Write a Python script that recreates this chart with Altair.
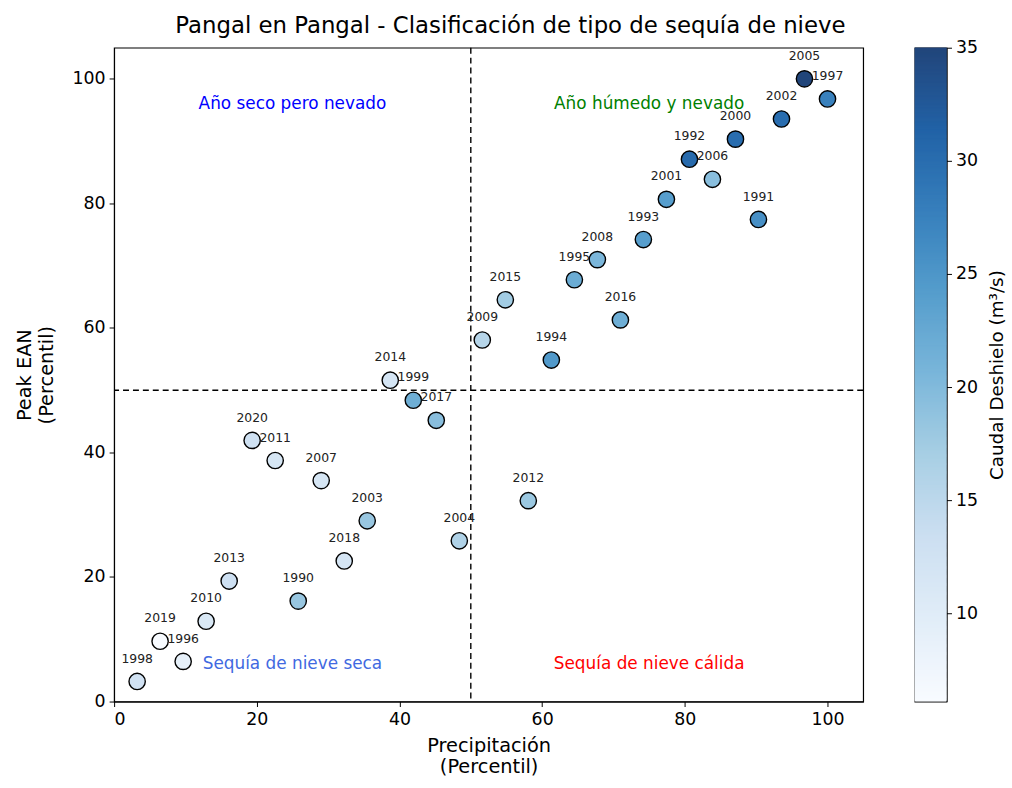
import altair as alt
import pandas as pd

# Years and their percentiles (precipitation vs. peak snow water equivalent)
years = [1998, 2019, 1996, 2010, 2013, 2020, 2011, 1990, 2007, 2018,
         2003, 2014, 1999, 2017, 2004, 2009, 2015, 2012, 1994, 1995,
         2008, 2016, 1993, 2001, 1992, 2006, 2000, 1991, 2002, 2005, 1997]
precip_pct = [3.23, 6.45, 9.68, 12.90, 16.13, 19.35, 22.58, 25.81, 29.03, 32.26,
              35.48, 38.71, 41.94, 45.16, 48.39, 51.61, 54.84, 58.06, 61.29, 64.52,
              67.74, 70.97, 74.19, 77.42, 80.65, 83.87, 87.10, 90.32, 93.55, 96.77, 100.0]
swe_pct = [3.23, 9.68, 6.45, 12.90, 19.35, 41.94, 38.71, 16.13, 35.48, 22.58,
           29.03, 51.61, 48.39, 45.16, 25.81, 58.06, 64.52, 32.26, 54.84, 67.74,
           70.97, 61.29, 74.19, 80.65, 87.10, 83.87, 90.32, 77.42, 93.55, 100.0, 96.77]
melt_flow = [12.5, 6.1, 9.0, 11.0, 13.0, 12.8, 11.6, 18.2, 11.6, 11.8,
             18.2, 11.8, 21.7, 19.4, 16.2, 15.6, 17.4, 18.0, 24.6, 22.0,
             20.5, 21.7, 24.0, 24.0, 30.4, 19.4, 30.0, 25.8, 30.0, 35.0, 27.5]

# Quadrant annotations
quad_text = ["Año seco pero nevado", "Año húmedo y nevado",
             "Sequía de nieve seca", "Sequía de nieve cálida"]
quad_x = [25, 75, 25, 75]
quad_y = [96, 96, 6, 6]
quad_color = ["blue", "green", "royalblue", "red"]

df = pd.DataFrame({"year": [str(y) for y in years], "precip": precip_pct,
                   "swe": swe_pct, "flow": melt_flow})
quads = pd.DataFrame({"label": quad_text, "x": quad_x, "y": quad_y, "c": quad_color})

# Matplotlib "Blues" colormap, shown at 90 % opacity over white
blues = ["#f7fbff", "#deebf7", "#c6dbef", "#9ecae1", "#6baed6",
         "#4292c6", "#2171b5", "#08519c", "#08306b"]


def over_white(hex_color, alpha=0.9):
    rgb = [int(hex_color[i:i + 2], 16) for i in (1, 3, 5)]
    return "#" + "".join(f"{round(alpha * c + (1 - alpha) * 255):02x}" for c in rgb)


blues_soft = [over_white(c) for c in blues]
lo, hi = min(melt_flow), max(melt_flow)
stops = [lo + i * (hi - lo) / 8 for i in range(9)]
cscale = alt.Scale(domain=stops, range=blues_soft, clamp=True)

FONT = "DejaVu Sans"
W, H = 755, 659

xs = alt.Scale(domain=[0, 105], nice=False, zero=False)
ys = alt.Scale(domain=[0, 105], nice=False, zero=False)

base = alt.Chart(df)

points = base.mark_circle(size=270, opacity=1, stroke="black", strokeWidth=1.4).encode(
    x=alt.X("precip:Q", scale=xs,
            axis=alt.Axis(values=[0, 20, 40, 60, 80, 100], title=["Precipitación", "(Percentil)"])),
    y=alt.Y("swe:Q", scale=ys,
            axis=alt.Axis(values=[0, 20, 40, 60, 80, 100], title=["Peak EAN", "(Percentil)"])),
    color=alt.Color("flow:Q", scale=cscale, legend=None),
)

year_labels = base.mark_text(fontSize=12.5, dy=-23, color="#222222", font=FONT).encode(
    x=alt.X("precip:Q", scale=xs), y=alt.Y("swe:Q", scale=ys), text="year:N")

vline = alt.Chart(pd.DataFrame({"v": [50]})).mark_rule(
    color="black", strokeDash=[6, 4], strokeWidth=1.4).encode(x=alt.X("v:Q", scale=xs))
hline = alt.Chart(pd.DataFrame({"v": [50]})).mark_rule(
    color="black", strokeDash=[6, 4], strokeWidth=1.4).encode(y=alt.Y("v:Q", scale=ys))

quad_labels = alt.Chart(quads).mark_text(fontSize=17, font=FONT).encode(
    x=alt.X("x:Q", scale=xs), y=alt.Y("y:Q", scale=ys), text="label:N",
    color=alt.Color("c:N", scale=None))

main = alt.layer(vline, hline, points, year_labels, quad_labels).properties(width=W, height=H)

# Colour bar drawn as a stack of thin cells on its own flow axis
step = 0.05
cbar = alt.Chart(alt.sequence(lo, hi, step, as_="v")).transform_calculate(
    v2=f"min(datum.v + {2 * step}, {hi})"
).mark_rect(opacity=1).encode(
    x=alt.value(0), x2=alt.value(32),
    y=alt.Y("v:Q", scale=alt.Scale(domain=[lo, hi], nice=False, zero=False),
            axis=alt.Axis(orient="right", values=[10, 15, 20, 25, 30, 35],
                          title="Caudal Deshielo (m³/s)", titlePadding=10,
                          titleAngle=270, titleBaseline="top", titleFontSize=18.5)),
    y2="v2:Q",
    color=alt.Color("v:Q", scale=cscale, legend=None),
).properties(width=32, height=H)

chart = alt.hconcat(main, cbar, spacing=49).resolve_scale(color="independent").properties(
    title=alt.Title("Pangal en Pangal - Clasificación de tipo de sequía de nieve",
                    fontSize=23, font=FONT, fontWeight="normal", anchor="middle", offset=0),
    padding={"left": 14, "top": 12, "right": 5, "bottom": 2},
).configure_view(stroke="black", strokeWidth=1.2).configure_axis(
    labelFont=FONT, titleFont=FONT, labelFontSize=17.5, titleFontSize=19.5,
    labelColor="black", titleColor="black", titleFontWeight="normal",
    domainColor="black", tickColor="black", tickSize=5, grid=False,
    labelPadding=4, domain=True,
).configure_axisY(titlePadding=16).configure_axisX(titlePadding=9).configure_concat(spacing=49)

chart.save("out.html", embed_options={"renderer": "svg", "actions": False})
